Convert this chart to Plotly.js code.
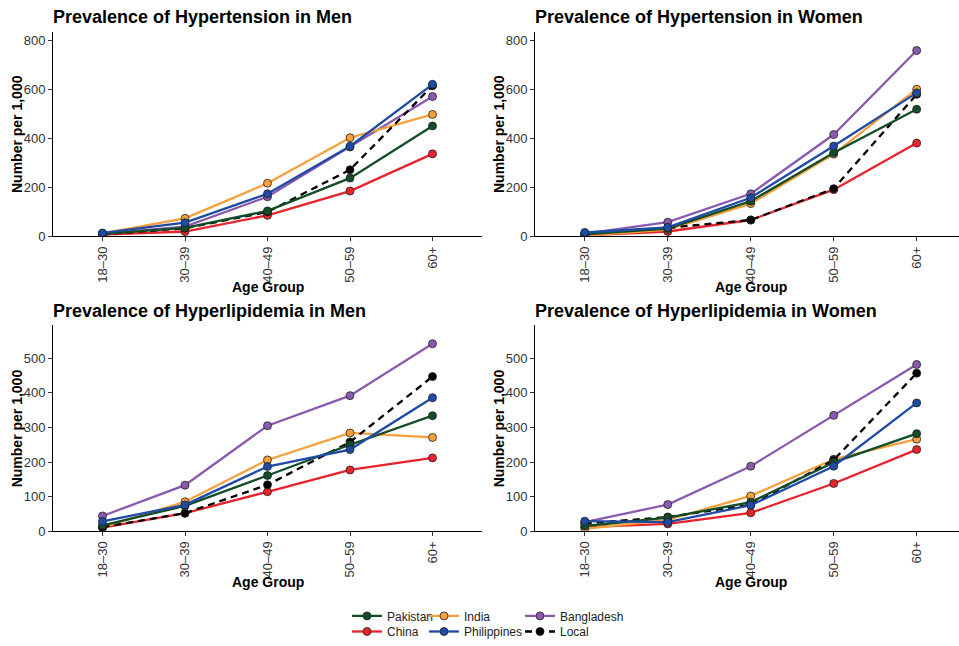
<!DOCTYPE html>
<html>
<head>
<meta charset="utf-8">
<script src="https://cdn.plot.ly/plotly-3.0.1.min.js"></script>
<style>html,body{margin:0;padding:0;background:#fff;}#chart{width:959px;height:646px;}</style>
</head>
<body>
<div id="chart"></div>
<script>
// ---- Data ----
const ageGroups = ["18–30", "30–39", "40–49", "50–59", "60+"];
const countries = ["Pakistan", "China", "India", "Philippines", "Bangladesh", "Local"];

// Hypertension, men (per 1,000)
const htnMenPakistan    = [10, 35, 104, 238, 451];
const htnMenChina       = [7, 20, 86, 185, 337];
const htnMenIndia       = [12, 74, 217, 403, 498];
const htnMenPhilippines = [14, 56, 174, 368, 621];
const htnMenBangladesh  = [11, 40, 162, 365, 571];
const htnMenLocal       = [9, 33, 100, 272, 615];

// Hypertension, women
const htnWomenPakistan    = [8, 32, 144, 342, 519];
const htnWomenChina       = [4, 20, 67, 191, 381];
const htnWomenIndia       = [3, 28, 134, 336, 601];
const htnWomenPhilippines = [16, 37, 158, 369, 586];
const htnWomenBangladesh  = [11, 58, 174, 416, 759];
const htnWomenLocal       = [13, 35, 67, 195, 580];

// Hyperlipidemia, men
const hldMenPakistan    = [17, 73, 161, 250, 334];
const hldMenChina       = [10, 52, 114, 177, 212];
const hldMenIndia       = [11, 85, 206, 284, 271];
const hldMenPhilippines = [28, 76, 187, 236, 386];
const hldMenBangladesh  = [44, 133, 305, 392, 542];
const hldMenLocal       = [12, 52, 134, 258, 447];

// Hyperlipidemia, women
const hldWomenPakistan    = [15, 39, 84, 199, 282];
const hldWomenChina       = [12, 21, 53, 138, 236];
const hldWomenIndia       = [7, 33, 102, 208, 266];
const hldWomenPhilippines = [29, 26, 75, 188, 371];
const hldWomenBangladesh  = [26, 77, 188, 335, 482];
const hldWomenLocal       = [22, 41, 76, 206, 457];

const panelTitles = [
  "Prevalence of Hypertension in Men",
  "Prevalence of Hypertension in Women",
  "Prevalence of Hyperlipidemia in Men",
  "Prevalence of Hyperlipidemia in Women"
];
const yAxisTitle = "Number per 1,000";
const xAxisTitle = "Age Group";

// ---- Styling ----
const W = 959, H = 646;
const FONT = "Liberation Sans, Arial, Helvetica, sans-serif";
const colors = {
  Pakistan: "#124D27", China: "#E8232B", India: "#F5A03B",
  Philippines: "#1E4BA6", Bangladesh: "#8A5AAE", Local: "#000000"
};
const px = x => x / W;
const py = y => 1 - y / H;

const panels = [
  {data: {Pakistan: htnMenPakistan, China: htnMenChina, India: htnMenIndia, Philippines: htnMenPhilippines, Bangladesh: htnMenBangladesh, Local: htnMenLocal},
   x0: 53, x1: 482, xr: [-0.6, 4.6], y0: 32, y1: 239, yr: [0, 836], dtick: 200, ty: 17},
  {data: {Pakistan: htnWomenPakistan, China: htnWomenChina, India: htnWomenIndia, Philippines: htnWomenPhilippines, Bangladesh: htnWomenBangladesh, Local: htnWomenLocal},
   x0: 535, x1: 959, xr: [-0.6, 4.51], y0: 32, y1: 239, yr: [0, 836], dtick: 200, ty: 17},
  {data: {Pakistan: hldMenPakistan, China: hldMenChina, India: hldMenIndia, Philippines: hldMenPhilippines, Bangladesh: hldMenBangladesh, Local: hldMenLocal},
   x0: 53, x1: 482, xr: [-0.6, 4.6], y0: 329, y1: 537, yr: [0, 595], dtick: 100, ty: 314},
  {data: {Pakistan: hldWomenPakistan, China: hldWomenChina, India: hldWomenIndia, Philippines: hldWomenPhilippines, Bangladesh: hldWomenBangladesh, Local: hldWomenLocal},
   x0: 535, x1: 959, xr: [-0.6, 4.51], y0: 329, y1: 537, yr: [0, 595], dtick: 100, ty: 314}
];

// drawing order (later on top)
const drawOrder = ["Bangladesh", "China", "India", "Local", "Pakistan", "Philippines"];
// legend slot for each country (column-major, 2 rows x 3 cols)
const legendSlot = {Pakistan: 1, China: 2, India: 3, Philippines: 4, Bangladesh: 5, Local: 6};
const legendPos = {1: [347, 608], 2: [347, 624], 3: [424, 608], 4: [424, 624], 5: [520, 608], 6: [520, 624]};

const traces = [];
const layout = {
  width: W, height: H,
  margin: {l: 0, r: 0, t: 0, b: 0},
  paper_bgcolor: "#fff", plot_bgcolor: "#fff",
  font: {family: FONT, color: "#000"},
  annotations: [],
  showlegend: true
};

panels.forEach((p, i) => {
  const n = i + 1;
  const xa = "x" + (n === 1 ? "" : n), ya = "y" + (n === 1 ? "" : n);
  const xk = "xaxis" + (n === 1 ? "" : n), yk = "yaxis" + (n === 1 ? "" : n);
  drawOrder.forEach(c => {
    const isLocal = c === "Local";
    const t = {
      type: "scatter", mode: "lines+markers",
      x: ageGroups, y: p.data[c], name: c,
      xaxis: xa, yaxis: ya,
      line: {color: colors[c], width: 2.3, dash: isLocal ? "7px,5px" : "solid"},
      marker: {color: colors[c], size: 8, line: {color: "#222", width: 0.8}},
      showlegend: i === 0,
      hoverinfo: "x+y+name"
    };
    if (i === 0) {
      const s = legendSlot[c];
      t.legend = s === 1 ? "legend" : "legend" + s;
    }
    traces.push(t);
  });
  layout[xk] = {
    domain: [px(p.x0), px(p.x1)], anchor: ya, type: "category",
    range: p.xr, showgrid: false, zeroline: false,
    showline: true, linecolor: "#000", linewidth: 1,
    ticks: "outside", ticklen: 4, tickcolor: "#333", tickwidth: 1,
    tickangle: -90, tickfont: {family: FONT, size: 13, color: "#333"}
  };
  layout[yk] = {
    domain: [py(p.y1), py(p.y0)], anchor: xa,
    range: p.yr, dtick: p.dtick, tick0: 0, showgrid: false, zeroline: false,
    showline: true, linecolor: "#000", linewidth: 1,
    ticks: "outside", ticklen: 4, tickcolor: "#333", tickwidth: 1,
    tickfont: {family: FONT, size: 13, color: "#333"}
  };
  // panel title
  layout.annotations.push({
    text: "<b>" + panelTitles[i] + "</b>", xref: "paper", yref: "paper",
    x: px(p.x0 - 2), y: py(p.ty), xanchor: "left", yanchor: "middle",
    showarrow: false, font: {family: FONT, size: 18, color: "#000"}
  });
  // y title
  layout.annotations.push({
    text: "<b>" + yAxisTitle + "</b>", xref: "paper", yref: "paper",
    x: px(p.x0 - 36), y: py((p.y0 + p.y1) / 2), xanchor: "center", yanchor: "middle",
    textangle: -90, showarrow: false, font: {family: FONT, size: 14, color: "#000"}
  });
  // x title
  const xc = p.x0 + (2 - p.xr[0]) / (p.xr[1] - p.xr[0]) * (p.x1 - p.x0);
  layout.annotations.push({
    text: "<b>" + xAxisTitle + "</b>", xref: "paper", yref: "paper",
    x: px(xc), y: py(p.y1 + 51), xanchor: "center", yanchor: "middle",
    showarrow: false, font: {family: FONT, size: 14, color: "#000"}
  });
});

for (let s = 1; s <= 6; s++) {
  const key = s === 1 ? "legend" : "legend" + s;
  layout[key] = {
    x: px(legendPos[s][0]), y: py(legendPos[s][1]), xanchor: "left", yanchor: "top",
    xref: "paper", yref: "paper",
    orientation: "v", bgcolor: "rgba(0,0,0,0)", borderwidth: 0,
    font: {family: FONT, size: 12, color: "#222"}, itemwidth: 30
  };
}

Plotly.newPlot("chart", traces, layout, {displayModeBar: false, staticPlot: true});
</script>
</body>
</html>
